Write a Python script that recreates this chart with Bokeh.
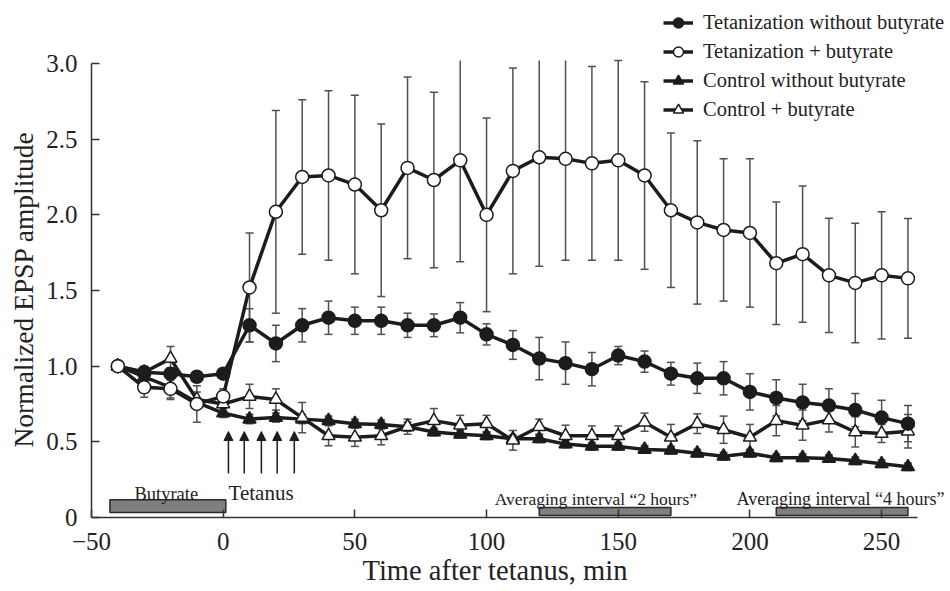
from bokeh.plotting import figure
from bokeh.models import (ColumnDataSource, Range1d, FixedTicker, Legend, LegendItem,
                          Label, Arrow, NormalHead, Title)
from bokeh.embed import file_html
from bokeh.resources import INLINE

# ---------------- data ----------------
time = [-40, -30, -20, -10, 0, 10, 20, 30, 40, 50, 60, 70, 80, 90, 100, 110, 120,
        130, 140, 150, 160, 170, 180, 190, 200, 210, 220, 230, 240, 250, 260]

tet_nobut = [1.00, 0.96, 0.95, 0.93, 0.95, 1.27, 1.15, 1.27, 1.32, 1.30, 1.30, 1.27,
             1.27, 1.32, 1.21, 1.14, 1.05, 1.02, 0.98, 1.07, 1.03, 0.95, 0.92, 0.92,
             0.83, 0.79, 0.76, 0.74, 0.71, 0.66, 0.62]
tet_nobut_err = [0.0, 0.03, 0.04, 0.03, 0.03, 0.11, 0.12, 0.11, 0.11, 0.09, 0.09, 0.08,
                 0.075, 0.10, 0.07, 0.095, 0.14, 0.14, 0.11, 0.06, 0.07, 0.075, 0.10, 0.11,
                 0.12, 0.12, 0.12, 0.11, 0.11, 0.115, 0.12]

tet_but = [1.00, 0.86, 0.85, 0.75, 0.80, 1.52, 2.02, 2.25, 2.26, 2.20, 2.03, 2.31,
           2.23, 2.36, 2.00, 2.29, 2.38, 2.37, 2.34, 2.36, 2.26, 2.03, 1.95, 1.90,
           1.88, 1.68, 1.74, 1.60, 1.55, 1.60, 1.58]
tet_but_err = [0.0, 0.065, 0.06, 0.12, 0.05, 0.36, 0.67, 0.51, 0.56, 0.59, 0.57, 0.60,
               0.58, 0.67, 0.64, 0.68, 0.72, 0.67, 0.64, 0.66, 0.62, 0.51, 0.54, 0.47,
               0.49, 0.405, 0.45, 0.377, 0.395, 0.42, 0.395]

ctrl_nobut = [1.00, 0.93, 0.86, 0.76, 0.69, 0.65, 0.66, 0.65, 0.64, 0.62, 0.615, 0.60,
              0.565, 0.55, 0.54, 0.52, 0.52, 0.485, 0.47, 0.47, 0.45, 0.445, 0.425, 0.405,
              0.425, 0.395, 0.395, 0.39, 0.375, 0.355, 0.335]
ctrl_nobut_err = [0.0, 0.03, 0.08, 0.03, 0.03, 0.03, 0.03, 0.03, 0.03, 0.03, 0.03, 0.03,
                  0.025, 0.025, 0.025, 0.025, 0.025, 0.025, 0.025, 0.025, 0.025, 0.025,
                  0.025, 0.025, 0.025, 0.025, 0.025, 0.025, 0.025, 0.025, 0.025]

ctrl_but = [1.00, 0.96, 1.05, 0.78, 0.75, 0.80, 0.78, 0.66, 0.54, 0.53, 0.54, 0.60,
            0.64, 0.61, 0.62, 0.51, 0.60, 0.54, 0.54, 0.54, 0.63, 0.53, 0.62, 0.58,
            0.53, 0.64, 0.61, 0.645, 0.565, 0.555, 0.57]
ctrl_but_err = [0.0, 0.04, 0.08, 0.05, 0.05, 0.08, 0.07, 0.10, 0.066, 0.06, 0.06, 0.05,
                0.08, 0.065, 0.055, 0.065, 0.05, 0.07, 0.065, 0.065, 0.06, 0.085, 0.065,
                0.09, 0.085, 0.10, 0.10, 0.08, 0.10, 0.06, 0.11]

series_labels = ["Tetanization without butyrate", "Tetanization + butyrate",
                 "Control without butyrate", "Control + butyrate"]

tetanus_times = [2, 8, 14.5, 20.5, 27]

interval_labels = ["Butyrate", "Averaging interval \u201c2 hours\u201d", "Averaging interval \u201c4 hours\u201d"]
interval_start = [-43, 120, 210]
interval_end = [1, 170, 260]

x_ticks = [-50, 0, 50, 100, 150, 200, 250]
x_tick_labels = ["\u221250", "0", "50", "100", "150", "200", "250"]
y_ticks = [0, 0.5, 1.0, 1.5, 2.0, 2.5, 3.0]
y_tick_labels = ["0", "0.5", "1.0", "1.5", "2.0", "2.5", "3.0"]

x_axis_span = (-50, 263.5)
y_axis_span = (0, 3.0)

# ---------------- figure ----------------
FONT = "Liberation Serif"
INK = "#1c1c1c"
ERR = "#505050"
TXT = "#222222"

p = figure(width=950, height=591, output_backend="svg", toolbar_location=None,
           x_range=Range1d(-50, 275.4), y_range=Range1d(0, 3.383),
           min_border_left=91, min_border_right=2, min_border_top=5, min_border_bottom=74)
p.outline_line_color = None
p.xgrid.visible = False
p.ygrid.visible = False
p.background_fill_color = "white"
p.border_fill_color = "white"

p.xaxis.bounds = x_axis_span
p.yaxis.bounds = y_axis_span
for ax, ticks, labels in ((p.xaxis[0], x_ticks, x_tick_labels), (p.yaxis[0], y_ticks, y_tick_labels)):
    ax.ticker = FixedTicker(ticks=ticks)
    ax.major_label_overrides = {t: l for t, l in zip(ticks, labels)}
    ax.axis_line_width = 1.5
    ax.axis_line_color = "#333333"
    ax.major_tick_line_color = "#333333"
    ax.major_tick_line_width = 1.5
    ax.major_tick_in = 8
    ax.major_tick_out = 0
    ax.minor_tick_line_color = None
    ax.major_label_text_font = FONT
    ax.major_label_text_font_size = "25px"
    ax.major_label_text_color = TXT

p.xaxis.major_label_standoff = 15
p.yaxis.major_label_standoff = 14

p.add_layout(Title(text="Normalized EPSP amplitude", align="left", offset=70,
                   vertical_align="top",
                   text_font=FONT, text_font_size="27.5px", text_font_style="normal",
                   text_color=TXT, standoff=6), "left")
p.add_layout(Title(text="Time after tetanus, min", align="left", offset=271,
                   vertical_align="top",
                   text_font=FONT, text_font_size="28.5px", text_font_style="normal",
                   text_color=TXT, standoff=5), "below")

# interval bars
bar_src = ColumnDataSource(dict(left=interval_start, right=interval_end,
                                bottom=[0.033, 0.014, 0.014], top=[0.118, 0.066, 0.066]))
p.quad(left="left", right="right", bottom="bottom", top="top", source=bar_src,
       fill_color="#7f7f7f", line_color="#2a2a2a", line_width=1.5)

# error bars (clipped at the top of the value axis, as in the original)
all_series = [(tet_nobut, tet_nobut_err), (tet_but, tet_but_err),
              (ctrl_nobut, ctrl_nobut_err), (ctrl_but, ctrl_but_err)]
ytop = y_axis_span[1] + 0.02
for vals, errs in all_series:
    lo = [v - e for v, e in zip(vals, errs)]
    hi = [min(v + e, ytop) for v, e in zip(vals, errs)]
    src = ColumnDataSource(dict(x=time, lo=lo, hi=hi))
    p.segment(x0="x", y0="lo", x1="x", y1="hi", source=src, line_color=ERR, line_width=1.5)
    p.scatter(x="x", y="lo", source=src, marker="dash", size=8, line_color=ERR, line_width=1.5)
    cap_x = [t for t, v, e in zip(time, vals, errs) if v + e <= ytop]
    cap_y = [v + e for v, e in zip(vals, errs) if v + e <= ytop]
    p.scatter(x=cap_x, y=cap_y, marker="dash", size=8, line_color=ERR, line_width=1.5)

styles = [("circle", INK, 13), ("circle", "white", 13), ("triangle", INK, 13), ("triangle", "white", 13)]
order = [2, 3, 0, 1]
renderers = {}
for i in order:
    vals = all_series[i][0]
    marker, fill, size = styles[i]
    src = ColumnDataSource(dict(x=time, y=vals))
    lr = p.line(x="x", y="y", source=src, line_color=INK, line_width=3.5)
    sr = p.scatter(x="x", y="y", source=src, marker=marker, size=size,
                   fill_color=fill, line_color=INK, line_width=1.5)
    renderers[i] = (lr, sr)
items = [LegendItem(label=series_labels[i], renderers=list(renderers[i])) for i in range(4)]

legend = Legend(items=items, location=(572, 395.5), orientation="vertical",
                glyph_width=30, glyph_height=25, label_height=25, spacing=4,
                padding=0, margin=0, label_standoff=10,
                border_line_color=None, background_fill_alpha=0,
                label_text_font=FONT, label_text_font_size="20.5px",
                label_text_color=TXT)
p.add_layout(legend)

# tetanus arrows
arr_src = ColumnDataSource(dict(x0=tetanus_times, x1=tetanus_times,
                                y0=[0.29] * len(tetanus_times), y1=[0.568] * len(tetanus_times)))
p.add_layout(Arrow(end=NormalHead(size=9, fill_color=INK, line_color=INK, line_width=1),
                   x_start="x0", y_start="y0", x_end="x1", y_end="y1", source=arr_src,
                   line_color=INK, line_width=1.5))

# texts
p.add_layout(Label(x=-21.6, y=0.157, text=interval_labels[0], text_align="center",
                   text_baseline="alphabetic", text_font=FONT, text_font_size="18.5px",
                   text_color=TXT))
p.add_layout(Label(x=14.4, y=0.16, text="Tetanus", text_align="center",
                   text_baseline="alphabetic", text_font=FONT, text_font_size="21px",
                   text_color=TXT))
p.add_layout(Label(x=141.5, y=0.124, text=interval_labels[1], text_align="center",
                   text_baseline="alphabetic", text_font=FONT, text_font_size="17.5px",
                   text_color=TXT))
p.add_layout(Label(x=234.4, y=0.124, text=interval_labels[2], text_align="center",
                   text_baseline="alphabetic", text_font=FONT, text_font_size="18px",
                   text_color=TXT))

open("out.html", "w").write(file_html(p, INLINE))
